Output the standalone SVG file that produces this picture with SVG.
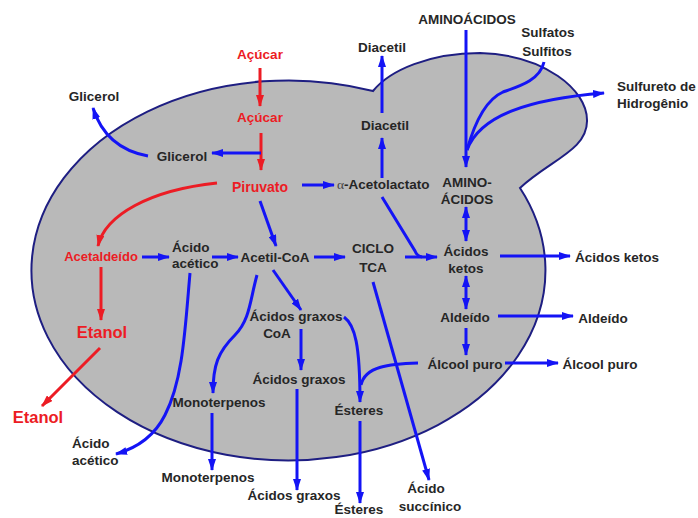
<svg xmlns="http://www.w3.org/2000/svg" width="698" height="518" viewBox="0 0 698 518">
<style>
.t{font-family:"Liberation Sans",Arial,sans-serif;font-weight:bold;font-size:13.5px;fill:#262626;text-anchor:middle}
.s{text-anchor:start}
.r{fill:#ec1c24}
.b{fill:none;stroke:#1414f5;stroke-width:3;marker-end:url(#ab)}
.bn{fill:none;stroke:#1414f5;stroke-width:3}
.bd{fill:none;stroke:#1414f5;stroke-width:3;marker-end:url(#ab);marker-start:url(#ab)}
.rd{fill:none;stroke:#ec1c24;stroke-width:3;marker-end:url(#ar)}
</style>
<defs>
<marker id="ab" viewBox="0 0 12 8" refX="11" refY="4" markerWidth="12" markerHeight="8" markerUnits="userSpaceOnUse" orient="auto-start-reverse"><path d="M0,0 L12,4 L0,8 z" fill="#1414f5"/></marker>
<marker id="ar" viewBox="0 0 12 8" refX="11" refY="4" markerWidth="12" markerHeight="8" markerUnits="userSpaceOnUse" orient="auto-start-reverse"><path d="M0,0 L12,4 L0,8 z" fill="#ec1c24"/></marker>
</defs>
<rect width="698" height="518" fill="#ffffff"/>
<g id="cell">
<path d="M 373 91 A 257 190 0 1 0 520 188 C 550 160, 588 150, 587 120 C 587 90, 545 55, 480 53 C 430 53, 390 70, 373 91 Z" fill="#b9b9b9" stroke="#1e1e82" stroke-width="2"/>
</g>
<g id="connectors">
<line class="rd" x1="260" y1="68" x2="260" y2="106"/>
<line class="rd" x1="261" y1="133" x2="261" y2="170"/>
<path class="rd" d="M 217 183 C 150 190, 105 215, 98 246"/>
<line class="rd" x1="101" y1="267" x2="101" y2="320"/>
<line class="rd" x1="100" y1="348" x2="42" y2="406"/>
<line class="b" x1="261" y1="153" x2="212" y2="153"/>
<path class="b" d="M 148 156 C 115 150, 100 130, 93 108"/>
<line class="b" x1="302" y1="185" x2="334" y2="185"/>
<line class="b" x1="260" y1="201" x2="276" y2="246"/>
<line class="b" x1="142" y1="257" x2="169" y2="257"/>
<line class="b" x1="212" y1="257" x2="238" y2="257"/>
<line class="b" x1="314" y1="257" x2="345" y2="257"/>
<line class="b" x1="405" y1="257" x2="437" y2="257"/>
<path class="bn" d="M 382 197 L 415 251 Q 417 256 422 257"/>
<line class="b" x1="382" y1="178" x2="382" y2="138"/>
<line class="b" x1="382" y1="113" x2="382" y2="56"/>
<line class="b" x1="466" y1="30" x2="466" y2="167"/>
<path class="bn" d="M 544 62 C 540 80, 520 86, 503 92 C 485 100, 474 125, 467 150"/>
<path class="b" d="M 467 150 C 480 115, 530 99, 604 93"/>
<line class="bd" x1="466" y1="207" x2="466" y2="241"/>
<line class="b" x1="500" y1="256" x2="570" y2="256"/>
<line class="bd" x1="466" y1="276" x2="466" y2="309"/>
<line class="b" x1="498" y1="316" x2="573" y2="316"/>
<line class="b" x1="466" y1="328" x2="466" y2="355"/>
<line class="b" x1="505" y1="363" x2="558" y2="363"/>
<path class="bn" d="M 418 363 C 390 364, 365 366, 361 385"/>
<path class="b" d="M 344 317 C 355 325, 360 345, 360 402"/>
<line class="b" x1="360" y1="421" x2="360" y2="503"/>
<line class="b" x1="373" y1="282" x2="429" y2="480"/>
<line class="b" x1="273" y1="270" x2="301" y2="310"/>
<line class="b" x1="301" y1="329" x2="301" y2="370"/>
<line class="b" x1="297" y1="389" x2="297" y2="490"/>
<path class="b" d="M 257 275 C 250 300, 250 320, 235 335 C 218 352, 213 365, 213 393"/>
<line class="b" x1="212" y1="413" x2="212" y2="470"/>
<path class="b" d="M 190 273 C 185 330, 183 380, 165 415 C 155 435, 137 448, 116 454"/>
</g>
<g id="n-acucar-out"><text class="t r" x="260" y="59">Açúcar</text></g>
<g id="n-acucar-in"><text class="t r" x="260" y="122">Açúcar</text></g>
<g id="n-glicerol-out"><text class="t" x="94" y="101">Glicerol</text></g>
<g id="n-glicerol-in"><text class="t" x="182" y="161">Glicerol</text></g>
<g id="n-piruvato"><text class="t r" x="260" y="192" style="font-size:14px">Piruvato</text></g>
<g id="n-acetolactato"><text class="t s" x="337" y="189"><tspan style="font-family:'Liberation Serif',serif;font-weight:normal;fill:#444">α</tspan>-Acetolactato</text></g>
<g id="n-diacetil-out"><text class="t" x="382" y="52">Diacetil</text></g>
<g id="n-diacetil-in"><text class="t" x="385" y="130">Diacetil</text></g>
<g id="n-aminoacidos-out"><text class="t" x="467" y="24">AMINOÁCIDOS</text></g>
<g id="n-sulfatos"><text class="t" x="548" y="37">Sulfatos</text><text class="t" x="547" y="56">Sulfitos</text></g>
<g id="n-sulfureto"><text class="t s" x="617" y="91">Sulfureto de</text><text class="t s" x="617" y="108">Hidrogênio</text></g>
<g id="n-aminoacidos-in"><text class="t" x="467" y="187">AMINO-</text><text class="t" x="467" y="204">ÁCIDOS</text></g>
<g id="n-ciclo"><text class="t" x="373" y="253">CICLO</text><text class="t" x="373" y="272">TCA</text></g>
<g id="n-cetoacidos-in"><text class="t" x="466" y="256">Ácidos</text><text class="t" x="466" y="273">ketos</text></g>
<g id="n-cetoacidos-out"><text class="t s" x="575" y="262">Ácidos ketos</text></g>
<g id="n-acetaldeido"><text class="t r" x="101" y="261" style="font-size:13px">Acetaldeído</text></g>
<g id="n-acetico-in"><text class="t s" x="172" y="252">Ácido</text><text class="t s" x="172" y="268">acético</text></g>
<g id="n-acetilcoa"><text class="t" x="275" y="262">Acetil-CoA</text></g>
<g id="n-etanol-in"><text class="t r" x="102" y="338" style="font-size:16.5px">Etanol</text></g>
<g id="n-etanol-out"><text class="t r" x="38" y="423" style="font-size:16.5px">Etanol</text></g>
<g id="n-acetico-out"><text class="t s" x="72" y="448">Ácido</text><text class="t s" x="72" y="465">acético</text></g>
<g id="n-graxoscoa"><text class="t" x="296" y="321">Ácidos graxos</text><text class="t" x="277" y="338">CoA</text></g>
<g id="n-graxos-in"><text class="t" x="299" y="384">Ácidos graxos</text></g>
<g id="n-monoterpenos-in"><text class="t" x="219" y="407">Monoterpenos</text></g>
<g id="n-monoterpenos-out"><text class="t" x="208" y="482">Monoterpenos</text></g>
<g id="n-graxos-out"><text class="t" x="294" y="500">Ácidos graxos</text></g>
<g id="n-esteres-in"><text class="t" x="359" y="415">Ésteres</text></g>
<g id="n-esteres-out"><text class="t" x="359" y="514">Ésteres</text></g>
<g id="n-aldeido-in"><text class="t" x="465" y="322">Aldeído</text></g>
<g id="n-aldeido-out"><text class="t" x="603" y="323">Aldeído</text></g>
<g id="n-alcool-in"><text class="t" x="465" y="369">Álcool puro</text></g>
<g id="n-alcool-out"><text class="t" x="600" y="369">Álcool puro</text></g>
<g id="n-succinico"><text class="t" x="426" y="493">Ácido</text><text class="t" x="430" y="511">succínico</text></g>
</svg>
